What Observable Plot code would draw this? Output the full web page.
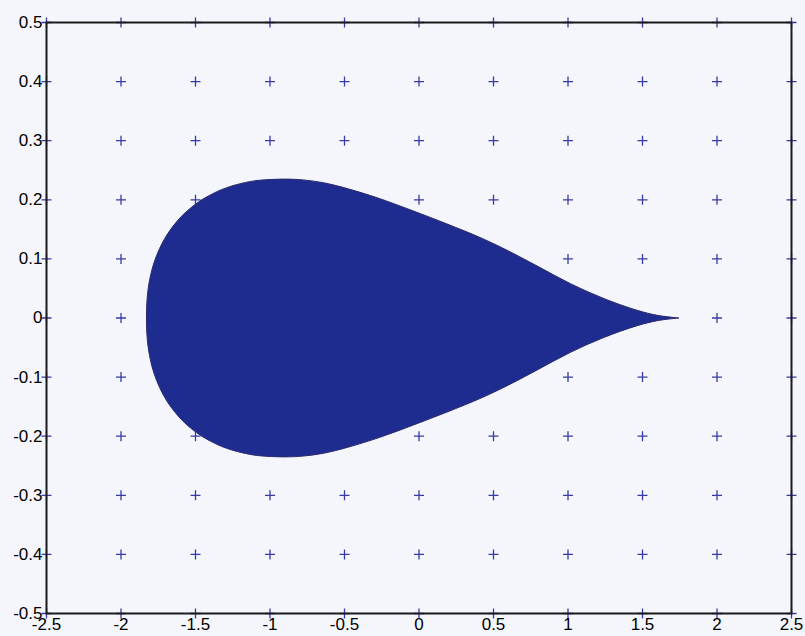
<!DOCTYPE html>
<html>
<head>
<meta charset="utf-8">
<script src="https://cdn.jsdelivr.net/npm/d3@7"></script>
<script src="https://cdn.jsdelivr.net/npm/@observablehq/plot@0.6"></script>
<style>
  html, body { margin: 0; padding: 0; background: #f4f6fb; }
  #chart svg { display: block; }
</style>
</head>
<body>
<div id="chart"></div>
<script>
// Tick values
const xTicks = [-2.5, -2, -1.5, -1, -0.5, 0, 0.5, 1, 1.5, 2, 2.5];
const yTicks = [-0.5, -0.4, -0.3, -0.2, -0.1, 0, 0.1, 0.2, 0.3, 0.4, 0.5];

// Teardrop outline, upper edge (left to right)
const upperX = [-1.829, -1.827, -1.819, -1.803, -1.778, -1.741, -1.691, -1.621, -1.5765, -1.524, -1.458, -1.374, -1.3215, -1.256, -1.164, -1.0765, -0.900, -0.780, -0.640, -0.482, -0.258, -0.037, 0.189, 0.416, 0.600, 0.800, 1.017, 1.240, 1.464, 1.600, 1.742];
const upperY = [0, 0.0235, 0.047, 0.0705, 0.094, 0.1176, 0.141, 0.1646, 0.1764, 0.188, 0.200, 0.2116, 0.2176, 0.2234, 0.2293, 0.2329, 0.235, 0.2337, 0.2288, 0.219, 0.2015, 0.181, 0.159, 0.1355, 0.1135, 0.087, 0.058, 0.033, 0.013, 0.0045, 0];
// Lower edge (left to right)
const lowerX = [-1.829, -1.827, -1.819, -1.803, -1.778, -1.741, -1.691, -1.621, -1.5765, -1.524, -1.458, -1.374, -1.3215, -1.256, -1.164, -1.0765, -0.900, -0.780, -0.640, -0.482, -0.258, -0.037, 0.189, 0.416, 0.600, 0.800, 1.017, 1.240, 1.464, 1.600, 1.742];
const lowerY = [0, -0.0235, -0.047, -0.0705, -0.094, -0.1176, -0.141, -0.1646, -0.1764, -0.188, -0.200, -0.2116, -0.2176, -0.2234, -0.2293, -0.2329, -0.235, -0.2337, -0.2288, -0.219, -0.2015, -0.181, -0.159, -0.1355, -0.1135, -0.087, -0.058, -0.033, -0.013, -0.0045, 0];

// Closed outline: tip -> upper edge leftward -> lower edge rightward -> tip
const outline = [];
for (let i = upperX.length - 1; i >= 0; i--) outline.push({x: upperX[i], y: upperY[i]});
for (let i = 1; i < lowerX.length; i++) outline.push({x: lowerX[i], y: lowerY[i]});

// Grid of "+" markers at every tick pair
const grid = xTicks.flatMap(x => yTicks.map(y => ({x, y})));

const cross = {
  draw(context, size) {
    const r = Math.sqrt(size / Math.PI);
    context.moveTo(-r, 0); context.lineTo(r, 0);
    context.moveTo(0, -r); context.lineTo(0, r);
  }
};

const fmt = d => String(d);

const chart = Plot.plot({
  width: 805,
  height: 636,
  marginLeft: 46,
  marginRight: 14,
  marginTop: 22,
  marginBottom: 23,
  style: {background: "#f4f6fb", fontFamily: "'Liberation Sans', Arial, sans-serif", color: "#111"},
  x: {domain: [-2.5, 2.5], label: null},
  y: {domain: [-0.5, 0.5], label: null},
  marks: [
    Plot.dot(grid, {x: "x", y: "y", symbol: cross, r: 5, stroke: "#3a3aa6", fill: "none", strokeWidth: 1.3}),
    Plot.line(outline, {x: "x", y: "y", curve: "catmull-rom", fill: "#1f2c8f", stroke: "#2a2a6e", strokeWidth: 1}),
    Plot.frame({stroke: "#1a1a1a", strokeWidth: 2}),
    Plot.axisX(xTicks, {tickSize: 0, tickPadding: 4, fontSize: 17, tickFormat: fmt, fill: "#000", label: null}),
    Plot.axisY(yTicks, {tickSize: 0, tickPadding: 4, fontSize: 17, tickFormat: fmt, fill: "#000", label: null})
  ]
});
document.getElementById("chart").appendChild(chart);
</script>
</body>
</html>
